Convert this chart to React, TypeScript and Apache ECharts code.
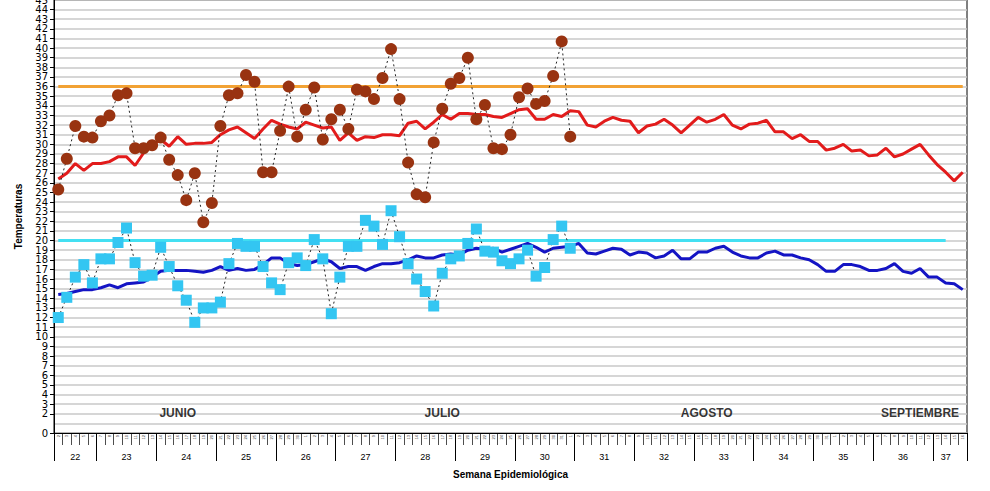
import React, { useEffect, useRef } from "react";
import * as echarts from "echarts";

// Days: 2 June 2009 .. 16 September 2009 (107 days)
const firstDay = { year: 2009, month: 5, day: 2 };
const dayCount = 107;
const monthAbbr = ["ene", "feb", "mar", "abr", "may", "jun", "jul", "ago", "sep", "oct", "nov", "dic"];

const weeks = [22, 23, 24, 25, 26, 27, 28, 29, 30, 31, 32, 33, 34, 35, 36, 37];
const weekStarts = [0, 5, 12, 19, 26, 33, 40, 47, 54, 61, 68, 75, 82, 89, 96, 103];
const weekLabelAt = [2, 8, 15, 22, 29, 36, 43, 50, 57, 64, 71, 78, 85, 92, 99, 104];

const monthNames = ["JUNIO", "JULIO", "AGOSTO", "SEPTIEMBRE"];
const monthAt = [14, 45, 76, 101];
const monthLabelY = 2.1;

const yMin = 0;
const yMax = 45;

const maxThreshold = 36;
const minThreshold = 20;
const maxThresholdEnd = 106;
const minThresholdEnd = 104;

// Observed maximum temperature (brown circles)
const tMaxObs = [
  25.3, 28.5, 31.9, 30.8, 30.7, 32.4, 33.0, 35.1, 35.3, 29.6, 29.6, 29.9, 30.7, 28.4, 26.8, 24.2, 27.0, 21.9, 23.9, 31.9,
  35.1, 35.3, 37.2, 36.5, 27.1, 27.1, 31.4, 36.0, 30.8, 33.6, 35.9, 30.5, 32.6, 33.6, 31.6, 35.7, 35.5, 34.7, 36.9, 39.9,
  34.7, 28.1, 24.8, 24.5, 30.2, 33.7, 36.3, 36.9, 39.0, 32.6, 34.1, 29.6, 29.5, 31.0, 34.9, 35.8, 34.2, 34.5, 37.1, 40.7,
  30.8,
];

// Observed minimum temperature (cyan squares)
const tMinObs = [
  12.0, 14.1, 16.2, 17.5, 15.6, 18.1, 18.1, 19.8, 21.3, 17.7, 16.3, 16.4, 19.3, 17.3, 15.3, 13.8, 11.5, 13.0, 13.0, 13.6,
  17.6, 19.7, 19.4, 19.4, 17.3, 15.6, 14.9, 17.7, 18.2, 17.4, 20.1, 18.1, 12.4, 16.2, 19.4, 19.4, 22.1, 21.5, 19.6, 23.1,
  20.4, 17.6, 16.0, 14.7, 13.2, 16.6, 18.1, 18.4, 19.7, 21.2, 18.9, 18.8, 17.9, 17.6, 18.1, 19.0, 16.3, 17.2, 20.1, 21.5,
  19.2,
];

// Historical mean maximum (red line)
const tMaxMean = [
  26.4, 27.0, 28.0, 27.3, 28.0, 28.0, 28.2, 28.7, 28.7, 27.8, 29.1, 29.9, 30.5, 29.8, 30.8, 30.0, 30.1, 30.1, 30.2, 31.0,
  31.5, 31.8, 31.2, 30.6, 31.6, 32.5, 32.1, 31.8, 31.6, 32.3, 32.0, 31.7, 31.8, 30.4, 31.2, 30.4, 30.8, 30.7, 31.0, 31.0,
  30.9, 32.2, 32.4, 31.6, 32.3, 33.1, 32.6, 33.2, 33.2, 33.1, 33.1, 32.9, 32.8, 33.2, 33.6, 33.7, 32.6, 32.6, 33.1, 32.9,
  33.5, 33.4, 32.0, 31.8, 32.4, 32.8, 32.5, 32.4, 31.2, 31.9, 32.1, 32.6, 32.0, 31.2, 32.0, 32.8, 32.3, 32.6, 33.1, 32.0,
  31.6, 32.1, 32.2, 32.5, 31.3, 31.3, 30.6, 31.0, 30.3, 30.3, 29.4, 29.6, 30.0, 29.3, 29.4, 28.8, 28.9, 29.6, 28.7, 29.0,
  29.5, 30.0, 28.9, 27.9, 27.1, 26.2, 27.1,
];

// Historical mean minimum (blue line)
const tMinMean = [
  14.4, 14.5, 14.7, 14.9, 14.9, 15.1, 15.4, 15.1, 15.5, 15.6, 15.7, 16.2, 16.8, 16.9, 16.9, 16.9, 16.8, 16.7, 16.9, 17.3,
  16.9, 17.1, 16.9, 17.0, 17.5, 18.2, 18.2, 17.6, 17.4, 17.5, 17.8, 18.1, 17.8, 17.1, 17.3, 17.3, 16.9, 17.3, 17.6, 17.6,
  17.7, 18.0, 18.4, 18.2, 18.2, 18.5, 18.6, 18.5, 19.0, 19.2, 19.1, 19.2, 18.8, 19.1, 19.4, 19.7, 19.3, 18.8, 19.2, 19.3,
  19.4, 19.7, 18.7, 18.6, 18.9, 19.2, 19.1, 18.5, 18.8, 18.7, 18.2, 18.4, 19.0, 18.1, 18.1, 18.8, 18.8, 19.2, 19.4, 18.8,
  18.4, 18.2, 18.2, 18.7, 18.9, 18.5, 18.5, 18.2, 18.0, 17.5, 16.8, 16.8, 17.5, 17.5, 17.3, 16.9, 16.9, 17.1, 17.6, 16.8,
  16.6, 17.1, 16.2, 16.2, 15.6, 15.5, 14.9,
];

const days: string[] = [];
for (let i = 0; i < dayCount; i++) {
  const d = new Date(firstDay.year, firstDay.month, firstDay.day + i);
  days.push(d.getDate() + "-" + monthAbbr[d.getMonth()]);
}

const FONT = "Arial, 'Liberation Sans', sans-serif";
const YFONT = "'DejaVu Sans', Verdana, sans-serif";

export default function App() {
  const ref = useRef<HTMLDivElement>(null);
  useEffect(() => {
    if (!ref.current) return;
    const chart = echarts.init(ref.current, undefined, { renderer: "svg" });
    const dotted = { color: "#222", width: 1, type: [2, 3] as any };
    chart.setOption({
      animation: false,
      backgroundColor: "#fff",
      grid: {
        left: 54,
        right: 23,
        top: 0,
        bottom: 58,
        show: true,
        borderColor: "#000",
        borderWidth: 1,
        backgroundColor: "transparent",
        outerBoundsMode: "none",
        containLabel: false,
      },
      xAxis: [
        {
          type: "category",
          data: days,
          boundaryGap: true,
          position: "bottom",
          axisLine: { show: true, lineStyle: { color: "#000", width: 1 } },
          axisTick: { show: true, interval: 0, length: 12, lineStyle: { color: "#000", width: 0.7 } },
          axisLabel: {
            interval: 0,
            rotate: 90,
            fontSize: 4,
            margin: 2,
            color: "#333",
            fontFamily: FONT,
            formatter: (v: string) => v.split("-")[0],
          },
          splitLine: { show: false },
        },
        {
          type: "category",
          data: days,
          boundaryGap: true,
          position: "bottom",
          axisLine: { show: false },
          axisTick: {
            show: true,
            interval: (i: number) => weekStarts.indexOf(i) >= 0,
            length: 28,
            lineStyle: { color: "#000", width: 1 },
          },
          axisLabel: {
            interval: 0,
            margin: 19,
            fontSize: 9,
            color: "#000",
            fontFamily: FONT,
            formatter: (_v: string, i: number) => {
              const k = weekLabelAt.indexOf(i);
              return k >= 0 ? String(weeks[k]) : "";
            },
          },
          splitLine: { show: false },
          name: "Semana Epidemiológica",
          nameLocation: "middle",
          nameGap: 36,
          nameTextStyle: { fontWeight: "bold", fontSize: 10, fontFamily: FONT, color: "#000" },
        },
      ],
      yAxis: [
        {
          type: "value",
          min: yMin,
          max: yMax,
          interval: 1,
          axisLine: { show: true, lineStyle: { color: "#000", width: 1 } },
          axisTick: { show: true, length: 4, lineStyle: { color: "#000" } },
          axisLabel: {
            fontSize: 10,
            lineHeight: 9,
            color: "#000",
            fontFamily: YFONT,
            margin: 6,
            showMinLabel: true,
            showMaxLabel: false,
            hideOverlap: false,
          },
          splitLine: { show: true, lineStyle: { color: "#c8c8c8", width: 1.5 } },
          name: "Temperaturas",
          nameLocation: "middle",
          nameGap: 31,
          nameTextStyle: { fontWeight: "bold", fontSize: 10, fontFamily: FONT, color: "#000" },
        },
        {
          type: "value",
          min: yMin,
          max: yMax,
          interval: 1,
          position: "left",
          axisLine: { show: false },
          axisTick: { show: false },
          splitLine: { show: false },
          axisLabel: {
            fontSize: 10,
            lineHeight: 9,
            color: "#000",
            fontFamily: YFONT,
            margin: 6,
            showMinLabel: false,
            showMaxLabel: true,
            formatter: (v: number) => (v === yMax ? String(v) : ""),
          },
        },
      ],
      series: [
        {
          name: "Máxima promedio",
          type: "line",
          data: tMaxMean,
          symbol: "none",
          lineStyle: { color: "#e21b1b", width: 3 },
          z: 2,
          markLine: {
            silent: true,
            symbol: ["none", "none"],
            label: { show: false },
            lineStyle: { color: "#f2a234", width: 3, type: "solid" },
            data: [[{ xAxis: days[0], yAxis: maxThreshold }, { xAxis: days[maxThresholdEnd], yAxis: maxThreshold }]],
          },
        },
        {
          name: "Mínima promedio",
          type: "line",
          data: tMinMean,
          symbol: "none",
          lineStyle: { color: "#1414c4", width: 3 },
          z: 2,
          markLine: {
            silent: true,
            symbol: ["none", "none"],
            label: { show: false },
            lineStyle: { color: "#44e0f2", width: 3, type: "solid" },
            data: [[{ xAxis: days[0], yAxis: minThreshold }, { xAxis: days[minThresholdEnd], yAxis: minThreshold }]],
          },
        },
        {
          name: "Máxima",
          type: "line",
          data: tMaxObs,
          symbol: "circle",
          symbolSize: 12,
          itemStyle: { color: "#993311" },
          lineStyle: dotted,
          z: 5,
        },
        {
          name: "Mínima",
          type: "line",
          data: tMinObs,
          symbol: "rect",
          symbolSize: 11,
          itemStyle: { color: "#33c6f2" },
          lineStyle: dotted,
          z: 5,
        },
        {
          name: "Meses",
          type: "scatter",
          data: monthNames.map((m, i) => ({ name: m, value: [days[monthAt[i]], monthLabelY] })),
          symbolSize: 2,
          itemStyle: { color: "rgba(0,0,0,0)" },
          silent: true,
          label: {
            show: true,
            position: "inside",
            formatter: "{b}",
            fontWeight: "bold",
            fontSize: 12,
            fontFamily: FONT,
            color: "#000",
          },
          z: 6,
        },
      ],
    });
    return () => chart.dispose();
  }, []);
  return (
    <div
      ref={ref}
      style={{ position: "absolute", left: 0, top: 0, width: 990, height: 491 }}
    />
  );
}
